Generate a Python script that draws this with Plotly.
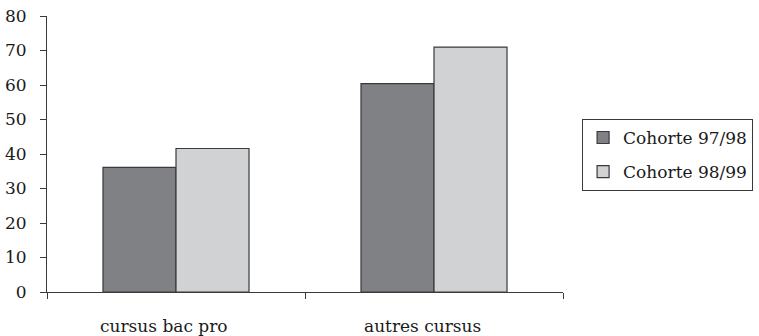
import plotly.graph_objects as go

categories = ["cursus bac pro", "autres cursus"]
series_names = ["Cohorte 97/98", "Cohorte 98/99"]
cohorte_97_98 = [36.1, 60.4]
cohorte_98_99 = [41.6, 71.0]
y_ticks = [0, 10, 20, 30, 40, 50, 60, 70, 80]

FONT = "DejaVu Serif"
LINE = "#3a3a3a"

fig = go.Figure()
fig.add_trace(go.Bar(x=categories, y=cohorte_97_98, name=series_names[0],
                     marker=dict(color="#808184", line=dict(color=LINE, width=1.2)),
                     legendgroup="a"))
fig.add_trace(go.Bar(x=categories, y=cohorte_98_99, name=series_names[1],
                     marker=dict(color="#d1d2d4", line=dict(color=LINE, width=1.2)),
                     legendgroup="b"))

for c in categories:
    fig.add_annotation(x=c, xref="x", y=0, yref="paper", yanchor="middle",
                       yshift=-34, xshift=-12, text=c, showarrow=False,
                       font=dict(family=FONT, size=17, color="#1a1a1a"))

fig.update_layout(
    width=759, height=336,
    margin=dict(l=47, r=196, t=16, b=44, autoexpand=False),
    paper_bgcolor="white", plot_bgcolor="white",
    barmode="group", bargap=0.434, bargroupgap=0,
    font=dict(family=FONT, size=17, color="#1a1a1a"),
    showlegend=True,
    legend=dict(x=1.037, xanchor="left", y=0.627, yanchor="top",
                bordercolor=LINE, borderwidth=1, bgcolor="white",
                font=dict(family=FONT, size=17, color="#1a1a1a"),
                tracegroupgap=9, traceorder="grouped"),
    xaxis=dict(type="category", tickson="boundaries", ticks="outside", ticklen=6,
               tickcolor=LINE, showticklabels=False, showline=True, automargin=False,
               linecolor=LINE, linewidth=1, showgrid=False, zeroline=False),
    yaxis=dict(range=[0, 80], tickvals=y_ticks, ticks="outside", ticklen=6,
               tickcolor=LINE, showline=True, linecolor=LINE, linewidth=1,
               showgrid=False, zeroline=False, ticklabelstandoff=10, automargin=False,
               tickfont=dict(family=FONT, size=17, color="#1a1a1a")),
)

fig.write_html("out.html", config={"displayModeBar": False},
               post_script="document.body.style.margin='0px';")
